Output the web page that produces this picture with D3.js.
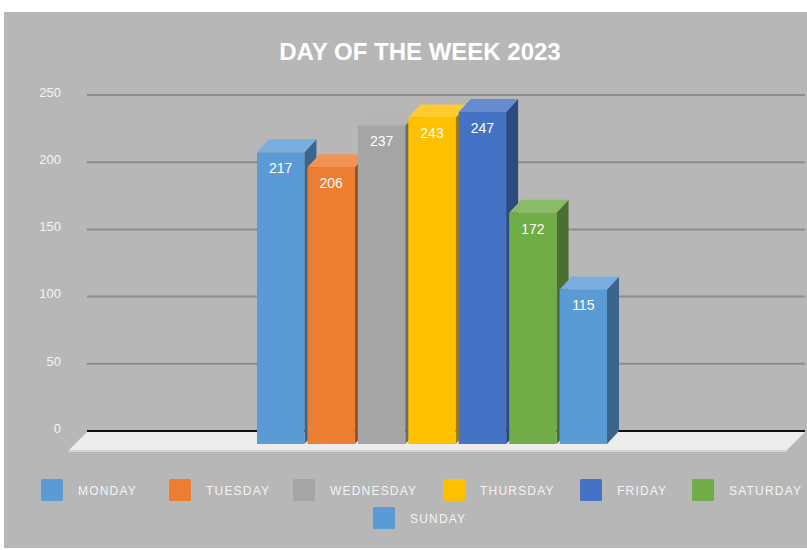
<!DOCTYPE html>
<html>
<head>
<meta charset="utf-8">
<script src="https://cdn.jsdelivr.net/npm/d3@7"></script>
<style>
    body { margin: 0; background: #ffffff; }
    text { font-family: "Liberation Sans", Arial, sans-serif; }
</style>
</head>
<body>
<div id="chart"></div>
<script>
var title = "DAY OF THE WEEK 2023";
var days = ["MONDAY", "TUESDAY", "WEDNESDAY", "THURSDAY", "FRIDAY", "SATURDAY", "SUNDAY"];
var values = [217, 206, 237, 243, 247, 172, 115];
var colors = ["#5b9bd5", "#ed7d31", "#a5a5a5", "#ffc000", "#4472c4", "#70ad47", "#5b9bd5"];
var yTicks = [0, 50, 100, 150, 200, 250];

var svgWidth = 807;
var svgHeight = 550;

// plot area (back wall) in pixels
var plot = { left: 87, right: 805, top: 95, bottom: 431 };
// 3d depth of bars and floor
var depth = { dx: 12, dy: 13 };
var floorDepth = { dx: 18, dy: 18 };

var svg = d3.select("#chart")
    .append("svg")
    .attr("width", svgWidth)
    .attr("height", svgHeight);

// gray chart background
svg.append("rect")
    .attr("x", 4)
    .attr("y", 12)
    .attr("width", svgWidth - 4)
    .attr("height", 536)
    .attr("fill", "#b7b7b7");

// scales
var yScale = d3.scaleLinear()
    .domain([0, 250])
    .range([plot.bottom, plot.top]);

var xScale = d3.scaleBand()
    .domain(days)
    .range([269, 619])
    .paddingInner(0.06);

// title
svg.append("text")
    .attr("x", 420)
    .attr("y", 60)
    .attr("text-anchor", "middle")
    .attr("fill", "#ffffff")
    .attr("font-size", "24px")
    .attr("font-weight", "bold")
    .text(title);

// gridlines
svg.append("g")
    .selectAll("line")
    .data(yTicks.filter(d => d > 0))
    .enter()
    .append("line")
    .attr("x1", plot.left)
    .attr("x2", plot.right)
    .attr("y1", d => yScale(d))
    .attr("y2", d => yScale(d))
    .attr("stroke", "#8c8c8c")
    .attr("stroke-width", 2);

// y axis labels
var leftAxis = d3.axisLeft(yScale)
    .tickValues(yTicks)
    .tickSize(0)
    .tickPadding(0);

var axisGroup = svg.append("g")
    .attr("transform", "translate(61, 0)")
    .call(leftAxis);
axisGroup.select(".domain").remove();
axisGroup.selectAll("text")
    .attr("fill", "#f4f4f4")
    .attr("font-size", "13px")
    .attr("font-family", "Liberation Sans, Arial, sans-serif")
    .attr("dy", "0.1em");

// floor
var floorBack = yScale(0) + 1;
svg.append("polygon")
    .attr("points", [
        [plot.left, floorBack],
        [plot.right, floorBack],
        [plot.right - floorDepth.dx, floorBack + floorDepth.dy],
        [plot.left - floorDepth.dx, floorBack + floorDepth.dy]
    ].join(" "))
    .attr("fill", "#ececec");
svg.append("rect")
    .attr("x", plot.left - floorDepth.dx)
    .attr("y", floorBack + floorDepth.dy)
    .attr("width", plot.right - plot.left)
    .attr("height", 2)
    .attr("fill", "#d4d4d4");

// baseline
svg.append("line")
    .attr("x1", plot.left)
    .attr("x2", plot.right)
    .attr("y1", yScale(0))
    .attr("y2", yScale(0))
    .attr("stroke", "#111111")
    .attr("stroke-width", 2);

// bars, drawn left to right so each front covers the previous side
var barData = days.map((d, i) => ({ day: d, value: values[i], color: colors[i] }));

var bars = svg.append("g")
    .selectAll("g")
    .data(barData)
    .enter()
    .append("g");

// side face
bars.append("polygon")
    .attr("points", function (d) {
        var xb = xScale(d.day) + xScale.bandwidth();
        var xf = xb - depth.dx;
        return [
            [xf, yScale(d.value) + depth.dy],
            [xb, yScale(d.value)],
            [xb, yScale(0)],
            [xf, yScale(0) + depth.dy]
        ].join(" ");
    })
    .attr("fill", d => d3.interpolateRgb(d.color, "#000")(0.35));

// top face
bars.append("polygon")
    .attr("points", function (d) {
        var xl = xScale(d.day);
        var w = xScale.bandwidth();
        var yt = yScale(d.value);
        return [
            [xl - depth.dx, yt + depth.dy],
            [xl, yt],
            [xl + w, yt],
            [xl + w - depth.dx, yt + depth.dy]
        ].join(" ");
    })
    .attr("fill", d => d3.interpolateRgb(d.color, "#fff")(0.18));

// front face
bars.append("rect")
    .attr("x", d => xScale(d.day) - depth.dx)
    .attr("y", d => yScale(d.value) + depth.dy)
    .attr("width", xScale.bandwidth())
    .attr("height", d => yScale(0) - yScale(d.value))
    .attr("fill", d => d.color);

// value labels
bars.append("text")
    .attr("x", d => xScale(d.day) - depth.dx + xScale.bandwidth() / 2)
    .attr("y", d => yScale(d.value) + depth.dy + 21)
    .attr("text-anchor", "middle")
    .attr("fill", "#ffffff")
    .attr("font-size", "14px")
    .text(d => d.value);

// legend
var legendPos = [
    { x: 41, y: 490 }, { x: 169, y: 490 }, { x: 293, y: 490 },
    { x: 443, y: 490 }, { x: 580, y: 490 }, { x: 692, y: 490 },
    { x: 373, y: 518 }
];

var legend = svg.append("g")
    .selectAll("g")
    .data(barData)
    .enter()
    .append("g")
    .attr("transform", (d, i) => `translate(${legendPos[i].x}, ${legendPos[i].y})`);

legend.append("rect")
    .attr("x", 0)
    .attr("y", -11)
    .attr("width", 22)
    .attr("height", 22)
    .attr("rx", 1.5)
    .attr("fill", d => d.color);

legend.append("text")
    .attr("x", 37)
    .attr("y", 4.5)
    .attr("fill", "#f4f4f4")
    .attr("font-size", "12px")
    .attr("letter-spacing", "1.2px")
    .text(d => d.day);
</script>
</body>
</html>
